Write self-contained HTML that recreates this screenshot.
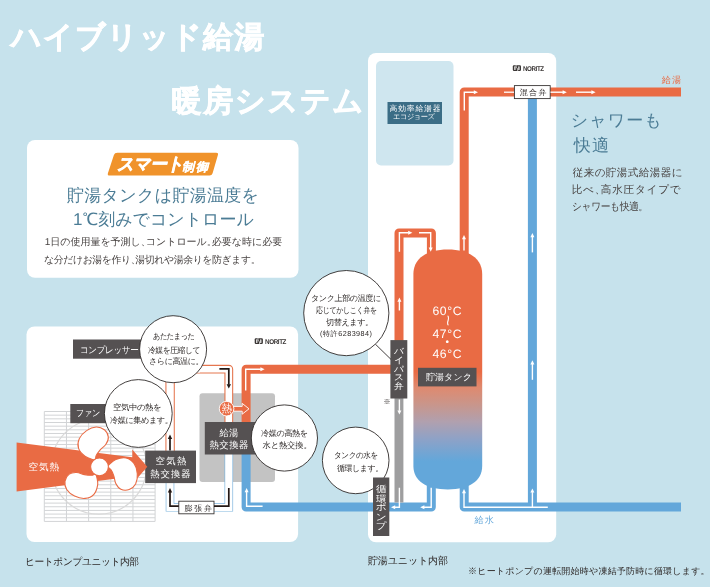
<!DOCTYPE html>
<html lang="ja">
<head>
<meta charset="utf-8">
<title>ハイブリッド給湯・暖房システム</title>
<style>
html,body{margin:0;padding:0}
body{position:relative;width:710px;height:587px;overflow:hidden;background:#c6e2ec;font-family:"Liberation Sans",sans-serif;text-rendering:geometricPrecision;}
.t{position:absolute;white-space:nowrap;line-height:1;margin:0;padding:0}
.p{margin-right:-0.5em}
.v{position:absolute;text-align:center;color:#fff;margin:0;padding:0}
</style>
</head>
<body>
<svg width="710" height="587" viewBox="0 0 710 587" style="position:absolute;left:0;top:0">
<defs><linearGradient id="tg" x1="0" y1="0" x2="0" y2="1" gradientUnits="objectBoundingBox"><stop offset="0" stop-color="#e96b44"/><stop offset="0.51" stop-color="#e96b44"/><stop offset="0.577" stop-color="#de8a70"/><stop offset="0.648" stop-color="#c8968c"/><stop offset="0.719" stop-color="#b0a0af"/><stop offset="0.794" stop-color="#8ca2c8"/><stop offset="0.882" stop-color="#63a7da"/><stop offset="1" stop-color="#63a7da"/></linearGradient></defs>
<rect x="27" y="140" width="271.5" height="137.8" rx="8" fill="#fff"/>
<rect x="26.5" y="326.5" width="271.6" height="215.5" rx="8" fill="#fff"/>
<rect x="368" y="53" width="188.2" height="489.3" rx="8" fill="#fff"/>
<rect x="376" y="61" width="77.5" height="104.5" rx="5" fill="#cfe6ef"/>
<rect x="387.5" y="102" width="54.5" height="22" fill="#3b6d86"/>
<path d="M44.3,411.50H155.1M44.3,415.16H155.1M44.3,418.83H155.1M44.3,422.49H155.1M44.3,426.16H155.1M44.3,429.82H155.1M44.3,433.48H155.1M44.3,437.15H155.1M44.3,440.81H155.1M44.3,444.48H155.1M44.3,448.14H155.1M44.3,451.80H155.1M44.3,455.47H155.1M44.3,459.13H155.1M44.3,462.80H155.1M44.3,466.46H155.1M44.3,470.12H155.1M44.3,473.79H155.1M44.3,477.45H155.1M44.3,481.12H155.1M44.3,484.78H155.1M44.3,488.44H155.1M44.3,492.11H155.1M44.3,495.77H155.1M44.3,499.44H155.1M44.3,503.10H155.1M44.3,506.76H155.1M44.3,510.43H155.1M44.3,514.09H155.1M44.3,517.76H155.1M44.3,521.42H155.1M44.30,411.5V521.4M66.46,411.5V521.4M88.62,411.5V521.4M110.78,411.5V521.4M132.94,411.5V521.4M155.10,411.5V521.4" stroke="#d2d4d6" stroke-width="1" fill="none"/>
<circle cx="98.8" cy="466.6" r="47.6" fill="none" stroke="#d9d9d9" stroke-width="1.2"/>
<rect x="199.5" y="393.3" width="75.5" height="88.6" rx="3" fill="#c3c3c3"/>
<path d="M170.1,369.2H228.8V425" fill="none" stroke-linejoin="round" stroke="#e5764f" stroke-width="8.8"/>
<path d="M170.1,369.2H228.8V425" fill="none" stroke-linejoin="round" stroke="#fff" stroke-width="6.6"/>
<path d="M170.1,452V366" fill="none" stroke="#e5764f" stroke-width="9.4"/>
<path d="M170.1,452V366" fill="none" stroke="#fff" stroke-width="7.3"/>
<path d="M166.5,369.2H200" fill="none" stroke="#fff" stroke-width="6.6"/>
<path d="M228.8,452V507.3H170V480" fill="none" stroke="#7fb5de" stroke-width="8.6"/>
<path d="M228.8,452V507.3H170V480" fill="none" stroke="#fff" stroke-width="7.2"/>
<path d="M246.1,440V369.3H396" fill="none" stroke-linejoin="round" stroke="#e96b44" stroke-width="9.0"/>
<path d="M246.1,440V507.1H431.3V480" fill="none" stroke-linejoin="round" stroke="#63a7da" stroke-width="9.0"/>
<path d="M399,345V233H431.4V262" fill="none" stroke-linejoin="round" stroke="#e96b44" stroke-width="9.0"/>
<rect x="394.5" y="396" width="8.9" height="106.5" fill="#9e9e9f"/>
<path d="M464.2,265V92H681" fill="none" stroke-linejoin="round" stroke="#e96b44" stroke-width="9.0"/>
<path d="M464.2,480V507.1H681" fill="none" stroke-linejoin="round" stroke="#63a7da" stroke-width="9.0"/>
<path d="M532.4,95V503" fill="none" stroke="#63a7da" stroke-width="9.0"/>
<path d="M413.4,274C413.4,258.6 426.3,249.6 447.8,249.6C469.3,249.6 482.2,258.6 482.2,274V466C482.2,480.8 469.3,489.4 447.8,489.4C426.3,489.4 413.4,480.8 413.4,466Z" fill="url(#tg)"/>
<rect x="73" y="339.5" width="80" height="19.2" fill="#555152"/>
<rect x="70.3" y="404" width="50" height="19.2" fill="#555152"/>
<rect x="145.2" y="450.6" width="50.8" height="32.5" fill="#555152"/>
<rect x="204.8" y="422" width="60" height="32.5" fill="#555152"/>
<rect x="418" y="367.8" width="58.5" height="18.6" fill="#555152"/>
<rect x="390.4" y="340.1" width="16.9" height="58.4" fill="#555152"/>
<polygon points="16.6,442.4 132.3,457.2 132.3,449.5 147.3,466.8 132.3,484.1 132.3,476.4 16.6,491.6" fill="#e96b44"/>
<path d="M93.8,459.9C92.1,459.3 87.6,458.2 85.0,456.3C82.5,454.4 79.4,451.2 78.5,448.2C77.6,445.3 78.0,441.5 79.3,438.6C80.7,435.6 83.8,432.5 86.6,430.6C89.4,428.6 93.3,427.1 96.2,427.0C99.2,426.9 102.3,428.1 104.3,429.7C106.3,431.4 108.1,434.6 108.3,437.0C108.6,439.4 107.3,442.1 105.9,444.2C104.6,446.4 101.8,448.0 100.2,449.9C98.6,451.8 97.1,453.8 96.2,455.5C95.4,457.1 95.8,458.9 95.4,459.7C95.0,460.4 95.6,460.4 93.8,459.9Z" fill="#fff" stroke="#e96b44" stroke-width="1.1"/>
<path d="M108.3,465.4C109.7,464.1 112.9,460.7 115.8,459.5C118.8,458.3 123.1,457.2 126.1,457.9C129.1,458.6 132.2,460.8 134.0,463.5C135.9,466.1 137.1,470.3 137.3,473.7C137.6,477.1 136.9,481.2 135.6,483.9C134.2,486.5 131.6,488.6 129.2,489.5C126.7,490.4 123.1,490.3 120.9,489.3C118.7,488.4 117.0,485.9 115.8,483.6C114.7,481.4 114.6,478.2 113.8,475.9C113.0,473.6 112.0,471.2 110.9,469.7C109.9,468.1 108.2,467.5 107.7,466.8C107.3,466.1 107.0,466.6 108.3,465.4Z" fill="#fff" stroke="#e96b44" stroke-width="1.1"/>
<path d="M96.3,475.2C96.7,477.0 98.1,481.4 97.7,484.6C97.2,487.8 96.0,492.0 93.9,494.3C91.8,496.6 88.3,498.1 85.1,498.4C81.9,498.7 77.7,497.6 74.6,496.1C71.5,494.6 68.3,492.0 66.7,489.5C65.1,487.0 64.6,483.7 65.0,481.1C65.4,478.6 67.3,475.5 69.3,474.1C71.2,472.6 74.2,472.4 76.7,472.5C79.3,472.6 82.1,474.2 84.5,474.6C86.9,475.1 89.5,475.4 91.3,475.3C93.1,475.2 94.5,473.9 95.4,473.9C96.2,473.9 96.0,473.4 96.3,475.2Z" fill="#fff" stroke="#e96b44" stroke-width="1.1"/>
<circle cx="99.5" cy="466.8" r="8.9" fill="#fff" stroke="#e96b44" stroke-width="1.1"/>
<rect x="514.4" y="85.6" width="35.8" height="13" fill="#fff" stroke="#3a3635" stroke-width="0.9"/>
<rect x="178.8" y="501.2" width="35.2" height="12.6" fill="#fff" stroke="#3a3635" stroke-width="0.9"/>
<path d="M233,406.4H242.2V403.4L249,408.8L242.2,414.2V411.2H233Z" fill="#e96b44" stroke="#fff" stroke-width="0.9"/>
<circle cx="226.6" cy="408.7" r="7.3" fill="#e96b44" stroke="#fff" stroke-width="0.9"/>
<path d="M375.4,344.2L391,359.4" stroke="#2f2a29" stroke-width="0.9" fill="none"/>
<ellipse cx="173.1" cy="349.2" rx="33.5" ry="33.5" fill="#fff" stroke="#2f2a29" stroke-width="0.9"/>
<ellipse cx="138.3" cy="413.5" rx="33.9" ry="33.9" fill="#fff" stroke="#2f2a29" stroke-width="0.9"/>
<ellipse cx="284.4" cy="438" rx="33.1" ry="33.1" fill="#fff" stroke="#2f2a29" stroke-width="0.9"/>
<ellipse cx="346.3" cy="313.1" rx="42.6" ry="42.6" fill="#fff" stroke="#2f2a29" stroke-width="0.9"/>
<ellipse cx="355.7" cy="460.4" rx="33.3" ry="33.3" fill="#fff" stroke="#2f2a29" stroke-width="0.9"/>
<rect x="373" y="477.5" width="16.3" height="58.5" fill="#555152"/>
<polyline points="464.3,110.5 464.3,92.2 474.3,92.2" fill="none" stroke="#fff" stroke-width="1.4" stroke-linejoin="miter"/><polygon points="478.0,92.2 473.8,94.2 473.8,90.2" fill="#fff"/>
<path d="M504,92.2H514" stroke="#fff" stroke-width="1.3"/>
<polyline points="550.5,92.2 563.1,92.2" fill="none" stroke="#fff" stroke-width="1.4" stroke-linejoin="miter"/><polygon points="566.8,92.2 562.6,94.2 562.6,90.2" fill="#fff"/>
<polyline points="576.0,92.2 591.9,92.2" fill="none" stroke="#fff" stroke-width="1.4" stroke-linejoin="miter"/><polygon points="595.6,92.2 591.4,94.2 591.4,90.2" fill="#fff"/>
<polyline points="399.4,251.8 399.4,232.8 408.7,232.8" fill="none" stroke="#fff" stroke-width="1.4" stroke-linejoin="miter"/><polygon points="412.4,232.8 408.2,234.8 408.2,230.8" fill="#fff"/>
<polyline points="419.0,232.8 430.7,232.8 430.7,248.1" fill="none" stroke="#fff" stroke-width="1.4" stroke-linejoin="miter"/><polygon points="430.7,251.8 428.7,247.6 432.7,247.6" fill="#fff"/>
<polyline points="399.4,310.5 399.4,301.2" fill="none" stroke="#fff" stroke-width="1.4" stroke-linejoin="miter"/><polygon points="399.4,297.5 401.4,301.7 397.4,301.7" fill="#fff"/>
<polyline points="464.0,250.5 464.0,238.7" fill="none" stroke="#fff" stroke-width="1.4" stroke-linejoin="miter"/><polygon points="464.0,235.0 466.0,239.2 462.0,239.2" fill="#fff"/>
<polyline points="399.4,399.5 399.4,410.9" fill="none" stroke="#fff" stroke-width="1.4" stroke-linejoin="miter"/><polygon points="399.4,414.6 397.4,410.4 401.4,410.4" fill="#fff"/>
<polyline points="399.4,487.8 399.4,507.2 394.7,507.2" fill="none" stroke="#fff" stroke-width="1.4" stroke-linejoin="miter"/><polygon points="391.0,507.2 395.2,505.2 395.2,509.2" fill="#fff"/>
<polyline points="431.2,487.8 431.2,507.2 423.9,507.2" fill="none" stroke="#fff" stroke-width="1.4" stroke-linejoin="miter"/><polygon points="420.2,507.2 424.4,505.2 424.4,509.2" fill="#fff"/>
<polyline points="547.8,507.2 464.0,507.2 464.0,492.7" fill="none" stroke="#fff" stroke-width="1.4" stroke-linejoin="miter"/><polygon points="464.0,489.0 466.0,493.2 462.0,493.2" fill="#fff"/>
<polyline points="532.4,507.2 532.4,492.1" fill="none" stroke="#fff" stroke-width="1.4" stroke-linejoin="miter"/><polygon points="532.4,488.4 534.4,492.6 530.4,492.6" fill="#fff"/>
<polyline points="532.4,252.4 532.4,236.7" fill="none" stroke="#fff" stroke-width="1.4" stroke-linejoin="miter"/><polygon points="532.4,233.0 534.4,237.2 530.4,237.2" fill="#fff"/>
<polyline points="532.4,379.8 532.4,364.0" fill="none" stroke="#fff" stroke-width="1.4" stroke-linejoin="miter"/><polygon points="532.4,360.3 534.4,364.5 530.4,364.5" fill="#fff"/>
<polyline points="245.7,390.4 245.7,369.3 260.9,369.3" fill="none" stroke="#fff" stroke-width="1.4" stroke-linejoin="miter"/><polygon points="264.6,369.3 260.4,371.3 260.4,367.3" fill="#fff"/>
<polyline points="262.6,506.2 246.6,506.2 246.6,491.7" fill="none" stroke="#fff" stroke-width="1.4" stroke-linejoin="miter"/><polygon points="246.6,488.0 248.6,492.2 244.6,492.2" fill="#fff"/>
<polyline points="219.4,368.8 228.8,368.8 228.8,384.7" fill="none" stroke="#231815" stroke-width="1.7" stroke-linejoin="miter"/><polygon points="228.8,388.6 226.6,384.2 231.0,384.2" fill="#231815"/>
<polyline points="170.0,450.6 170.0,438.5" fill="none" stroke="#231815" stroke-width="1.7" stroke-linejoin="miter"/><polygon points="170.0,434.6 172.2,439.0 167.8,439.0" fill="#231815"/>
<polyline points="178.8,506.2 170.0,506.2 170.0,491.9" fill="none" stroke="#231815" stroke-width="1.7" stroke-linejoin="miter"/><polygon points="170.0,488.0 172.2,492.4 167.8,492.4" fill="#231815"/>
<path d="M228.8,488V506.2H214" fill="none" stroke="#231815" stroke-width="1.7"/>
<g transform="translate(512.8,65.2)"><rect x="0" y="0" width="8.2" height="5.8" rx="1.2" fill="#3a3635"/><rect x="1.5" y="1.1" width="1.2" height="3.6" rx="0.5" fill="#fff"/><rect x="5.5" y="1.1" width="1.2" height="3.6" rx="0.5" fill="#fff"/><path d="M3.3,0V2.2L4.9,3.6V5.8" stroke="#fff" stroke-width="0.7" fill="none"/></g>
<g transform="translate(254.7,338.2)"><rect x="0" y="0" width="8.2" height="5.8" rx="1.2" fill="#3a3635"/><rect x="1.5" y="1.1" width="1.2" height="3.6" rx="0.5" fill="#fff"/><rect x="5.5" y="1.1" width="1.2" height="3.6" rx="0.5" fill="#fff"/><path d="M3.3,0V2.2L4.9,3.6V5.8" stroke="#fff" stroke-width="0.7" fill="none"/></g>
<path d="M117.3,152.8H216.2Q218.6,152.8 217.9,155.1L212.6,173.3Q211.9,175.6 209.5,175.6H109.6Q107.2,175.6 107.9,173.3L113.9,155.1Q114.6,152.8 117.3,152.8Z" fill="#f0932b"/>
</svg>
<div id="txt" style="position:absolute;left:0;top:0;width:710px;height:587px;will-change:transform">
<div class="t" id="t1" style="left:11.00px;top:23.25px;font-size:30px;color:#fff;font-weight:bold;letter-spacing:1.29px;-webkit-text-stroke:0.7px #fff;">ハイブリッド給湯</div>
<div class="t" id="t2" style="left:171.50px;top:87.10px;font-size:30px;color:#fff;font-weight:bold;letter-spacing:1.80px;-webkit-text-stroke:0.7px #fff;">暖房システム</div>
<div class="t" id="sm1" style="left:116.50px;top:154.75px;font-size:18px;color:#fff;font-weight:bold;letter-spacing:-0.45px;transform:scaleX(0.924);transform-origin:0 50%;font-style:italic;-webkit-text-stroke:0.6px #fff;">スマート</div>
<div class="t" id="sm2" style="left:182.00px;top:160.81px;font-size:12px;color:#fff;font-weight:bold;letter-spacing:2.00px;font-style:italic;-webkit-text-stroke:0.3px #fff;">制御</div>
<div class="t" id="h1" style="left:67.00px;top:186.75px;font-size:17px;color:#4b7c95;letter-spacing:0.30px;">貯湯タンクは貯湯温度を</div>
<div class="t" id="h2" style="left:73.00px;top:211.21px;font-size:17px;color:#4b7c95;">1℃刻みでコントロール</div>
<div class="t" id="b1" style="left:44.71px;top:238.25px;font-size:10.0px;color:#474241;letter-spacing:-0.02px;">1日の使用量を予測し<span class="p">、</span>コントロール<span class="p">。</span>必要な時に必要</div>
<div class="t" id="b2" style="left:43.71px;top:255.75px;font-size:10.0px;color:#474241;letter-spacing:-0.45px;transform:scaleX(0.993);transform-origin:0 50%;">な分だけお湯を作り<span class="p">、</span>湯切れや湯余りを防ぎます<span class="p">。</span></div>
<div class="t" id="cp" style="left:80.31px;top:346.16px;font-size:9.2px;color:#fff;letter-spacing:-0.45px;transform:scaleX(0.934);transform-origin:0 50%;">コンプレッサー</div>
<div class="t" id="c1a" style="left:153.21px;top:332.11px;font-size:8.3px;color:#2d2827;letter-spacing:-0.45px;transform:scaleX(0.859);transform-origin:0 50%;">あたたまった</div>
<div class="t" id="c1b" style="left:147.81px;top:346.01px;font-size:8.3px;color:#2d2827;letter-spacing:-0.45px;transform:scaleX(0.936);transform-origin:0 50%;">冷媒を圧縮して</div>
<div class="t" id="c1c" style="left:149.00px;top:357.07px;font-size:8.3px;color:#2d2827;letter-spacing:-0.45px;transform:scaleX(0.972);transform-origin:0 50%;">さらに高温に<span class="p">。</span></div>
<div class="t" id="fan" style="left:75.71px;top:407.71px;font-size:9.4px;color:#fff;letter-spacing:-0.45px;transform:scaleX(0.871);transform-origin:0 50%;">ファン</div>
<div class="t" id="c2a" style="left:112.81px;top:403.20px;font-size:8.3px;color:#2d2827;letter-spacing:-0.45px;transform:scaleX(1.016);transform-origin:0 50%;">空気中の熱を</div>
<div class="t" id="c2b" style="left:109.50px;top:415.65px;font-size:8.3px;color:#2d2827;letter-spacing:-0.45px;transform:scaleX(0.983);transform-origin:0 50%;">冷媒に集めます<span class="p">。</span></div>
<div class="t" id="air" style="left:28.60px;top:462.85px;font-size:9.6px;color:#fff;letter-spacing:0.80px;">空気熱</div>
<div class="t" id="ax1" style="left:155.60px;top:456.40px;font-size:9.4px;color:#fff;letter-spacing:1.30px;">空気熱</div>
<div class="t" id="ax2" style="left:150.31px;top:468.50px;font-size:9.4px;color:#fff;letter-spacing:0.93px;">熱交換器</div>
<div class="t" id="wx1" style="left:219.50px;top:428.00px;font-size:9.4px;color:#fff;letter-spacing:0.20px;">給湯</div>
<div class="t" id="wx2" style="left:209.60px;top:440.00px;font-size:9.4px;color:#fff;letter-spacing:0.40px;">熱交換器</div>
<div class="t" id="c4a" style="left:261.41px;top:428.86px;font-size:8.3px;color:#2d2827;letter-spacing:-0.45px;transform:scaleX(0.985);transform-origin:0 50%;">冷媒の高熱を</div>
<div class="t" id="c4b" style="left:262.50px;top:440.51px;font-size:8.3px;color:#2d2827;letter-spacing:-0.16px;">水と熱交換<span class="p">。</span></div>
<div class="t" id="ev" style="left:184.50px;top:504.66px;font-size:8.0px;color:#2d2827;letter-spacing:1.70px;">膨張弁</div>
<div class="t" id="heat" style="left:221.60px;top:404.20px;font-size:10.6px;color:#fff;">熱</div>
<div class="t" id="hp" style="left:25.00px;top:557.75px;font-size:10.0px;color:#2d2827;letter-spacing:-0.45px;transform:scaleX(0.974);transform-origin:0 50%;">ヒートポンプユニット内部</div>
<div class="t" id="e1" style="left:389.50px;top:105.32px;font-size:7.8px;color:#fff;letter-spacing:0.84px;">高効率給湯器</div>
<div class="t" id="e2" style="left:393.00px;top:113.35px;font-size:7.2px;color:#fff;letter-spacing:-0.45px;transform:scaleX(1.007);transform-origin:0 50%;">エコジョーズ</div>
<div class="t" id="n1" style="left:523.00px;top:66.90px;font-size:6.9px;color:#3a3635;font-weight:bold;letter-spacing:-0.45px;transform:scaleX(0.903);transform-origin:0 50%;">NORITZ</div>
<div class="t" id="n2" style="left:264.91px;top:339.90px;font-size:6.9px;color:#3a3635;font-weight:bold;letter-spacing:-0.45px;transform:scaleX(0.916);transform-origin:0 50%;">NORITZ</div>
<div class="t" id="mv" style="left:519.81px;top:88.56px;font-size:8.0px;color:#2d2827;letter-spacing:1.30px;">混合弁</div>
<div class="t" id="ky" style="left:661.81px;top:75.76px;font-size:9.2px;color:#e96b44;letter-spacing:1.00px;">給湯</div>
<div class="t" id="s1" style="left:570.71px;top:112.31px;font-size:17px;color:#4b7c95;letter-spacing:1.10px;">シャワーも</div>
<div class="t" id="s2" style="left:573.71px;top:136.85px;font-size:17px;color:#4b7c95;letter-spacing:1.40px;">快適</div>
<div class="t" id="sb1" style="left:572.71px;top:167.91px;font-size:10.6px;color:#474241;letter-spacing:0.38px;">従来の貯湯式給湯器に</div>
<div class="t" id="sb2" style="left:571.71px;top:184.51px;font-size:10.6px;color:#474241;letter-spacing:0.78px;">比べ<span class="p">、</span>高水圧タイプで</div>
<div class="t" id="sb3" style="left:571.71px;top:201.95px;font-size:10.6px;color:#474241;letter-spacing:-0.45px;transform:scaleX(0.921);transform-origin:0 50%;">シャワーも快適<span class="p">。</span></div>
<div class="t" id="c3a" style="left:311.10px;top:293.82px;font-size:8.3px;color:#2d2827;letter-spacing:-0.45px;transform:scaleX(0.976);transform-origin:0 50%;">タンク上部の温度に</div>
<div class="t" id="c3b" style="left:315.91px;top:306.36px;font-size:8.3px;color:#2d2827;letter-spacing:-0.45px;transform:scaleX(0.845);transform-origin:0 50%;">応じてかしこく弁を</div>
<div class="t" id="c3c" style="left:325.60px;top:318.15px;font-size:8.3px;color:#2d2827;letter-spacing:-0.45px;transform:scaleX(0.981);transform-origin:0 50%;">切替えます<span class="p">。</span></div>
<div class="t" id="c3d" style="left:320.00px;top:330.26px;font-size:7.2px;color:#2d2827;letter-spacing:0.48px;">(特許6283984)</div>
<div class="t" id="k60" style="left:432.41px;top:304.66px;font-size:12.2px;color:#fff;letter-spacing:0.60px;">60°C</div>
<div class="t" id="k47" style="left:432.41px;top:327.60px;font-size:12.2px;color:#fff;letter-spacing:0.60px;">47°C</div>
<div class="t" id="k46" style="left:432.41px;top:347.51px;font-size:12.2px;color:#fff;letter-spacing:0.60px;">46°C</div>
<div class="t" id="tk" style="left:425.91px;top:373.21px;font-size:9.0px;color:#fff;letter-spacing:0.10px;">貯湯タンク</div>
<div class="t" id="ast" style="left:383.60px;top:399.31px;font-size:7px;color:#2d2827;">※</div>
<div class="t" id="c5a" style="left:333.60px;top:451.40px;font-size:8.3px;color:#2d2827;letter-spacing:-0.45px;transform:scaleX(0.912);transform-origin:0 50%;">タンクの水を</div>
<div class="t" id="c5b" style="left:336.91px;top:463.86px;font-size:8.3px;color:#2d2827;letter-spacing:-0.45px;transform:scaleX(0.960);transform-origin:0 50%;">循環します<span class="p">。</span></div>
<div class="t" id="kw" style="left:474.60px;top:515.85px;font-size:9.2px;color:#63a7da;letter-spacing:1.00px;">給水</div>
<div class="t" id="tu" style="left:368.00px;top:557.35px;font-size:10.0px;color:#2d2827;letter-spacing:-0.14px;">貯湯ユニット内部</div>
<div class="t" id="fn" style="left:468.00px;top:567.46px;font-size:9.0px;color:#2d2827;letter-spacing:0.21px;">※ヒートポンプの運転開始時や凍結予防時に循環します<span class="p">。</span></div>
<div class="v" id="bp" style="left:388.91px;top:348.41px;width:20px;font-size:9.8px;line-height:9.8px;transform:scaleY(0.889);transform-origin:50% 0;">バ<br>イ<br>パ<br>ス<br>弁</div>
<div class="v" id="pm" style="left:371.21px;top:485.41px;width:20px;font-size:10.6px;line-height:10.6px;transform:scaleY(0.873);transform-origin:50% 0;">循<br>環<br>ポ<br>ン<br>プ</div>
<div class="t" style="left:441.6px;top:310.6px;font-size:19px;color:#fff;transform:rotate(90deg) scaleY(0.8);transform-origin:50% 50%;">~</div>
<div class="t" style="left:445.5px;top:337.6px;font-size:10px;color:#fff;">•</div>
</div>
</body>
</html>
